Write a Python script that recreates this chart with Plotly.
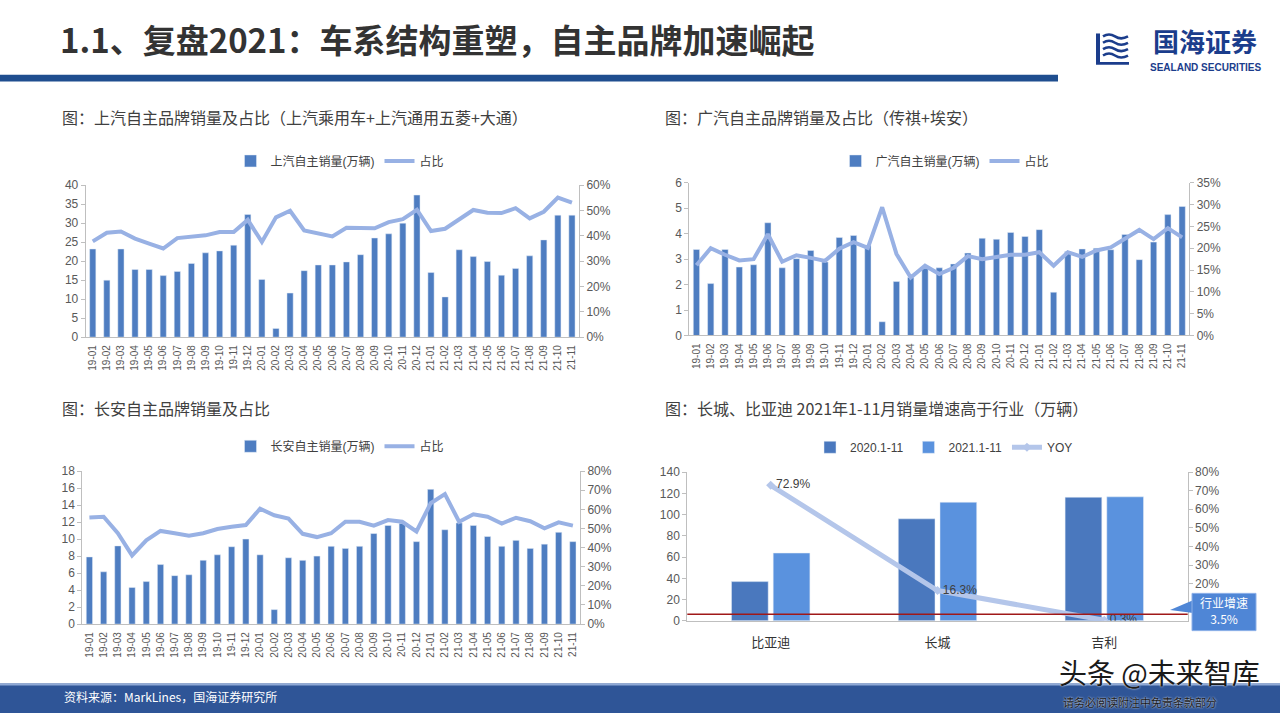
import plotly.graph_objects as go

# ---------------- data ----------------
MONTHS = ["19-01", "19-02", "19-03", "19-04", "19-05", "19-06", "19-07", "19-08", "19-09", "19-10", "19-11", "19-12",
          "20-01", "20-02", "20-03", "20-04", "20-05", "20-06", "20-07", "20-08", "20-09", "20-10", "20-11", "20-12",
          "21-01", "21-02", "21-03", "21-04", "21-05", "21-06", "21-07", "21-08", "21-09", "21-10", "21-11"]

SAIC_SALES = [23.2, 15.0, 23.2, 17.8, 17.8, 16.2, 17.3, 19.4, 22.2, 22.7, 24.2, 32.3,
              15.2, 2.3, 11.6, 17.5, 19.0, 19.0, 19.8, 21.7, 26.1, 27.2, 30.0, 37.4,
              17.0, 10.6, 23.0, 21.2, 19.9, 16.3, 18.1, 21.4, 25.6, 32.1, 32.1]
SAIC_SHARE = [37.8, 41.2, 41.7, 38.9, 36.9, 35.0, 39.1, 39.7, 40.2, 41.5, 41.5, 46.3,
              37.6, 47.3, 49.9, 42.1, 40.8, 39.8, 43.2, 43.0, 43.0, 45.4, 46.6, 50.3,
              41.9, 42.8, 46.4, 50.2, 49.1, 49.0, 50.9, 46.9, 49.5, 55.1, 53.1]

GAC_SALES = [3.38, 2.04, 3.38, 2.69, 2.78, 4.43, 2.66, 3.02, 3.34, 2.89, 3.85, 3.93,
             3.55, 0.54, 2.12, 2.28, 2.63, 2.66, 2.81, 3.24, 3.82, 3.78, 4.05, 3.89,
             4.16, 1.70, 3.30, 3.40, 3.43, 3.37, 3.97, 2.98, 3.67, 4.75, 5.07]
GAC_SHARE = [16.1, 20.0, 18.5, 17.2, 17.5, 23.2, 16.9, 18.4, 17.8, 17.1, 19.9, 21.4,
             20.1, 29.4, 18.7, 13.3, 16.0, 14.1, 15.5, 18.2, 17.5, 18.0, 18.5, 18.5,
             19.1, 16.0, 19.1, 18.0, 19.5, 20.2, 22.1, 24.2, 22.1, 24.6, 22.5]

CHANGAN_SALES = [7.9, 6.15, 9.2, 4.3, 5.0, 7.0, 5.7, 5.8, 7.5, 8.15, 9.1, 10.0,
                 8.15, 1.7, 7.8, 7.5, 8.0, 9.15, 8.9, 9.15, 10.65, 11.6, 11.85, 9.7,
                 15.85, 11.1, 11.9, 11.6, 10.3, 9.15, 9.85, 8.9, 9.4, 10.8, 9.7]
CHANGAN_SHARE = [55.7, 56.1, 47.5, 35.9, 43.8, 48.7, 47.5, 46.2, 47.5, 49.7, 50.9, 51.8,
                 60.3, 56.9, 55.2, 47.2, 45.5, 47.5, 53.5, 53.5, 51.5, 54.4, 53.5, 48.4,
                 63.2, 68.0, 53.5, 57.4, 56.1, 52.6, 55.6, 53.8, 50.1, 53.2, 51.5]

BRANDS = ["比亚迪", "长城", "吉利"]
SALES_2020 = [36.9, 96.0, 116.3]
SALES_2021 = [63.8, 111.6, 116.7]
YOY = [72.9, 16.3, 0.3]
INDUSTRY_GROWTH = 3.5
YOY_TICKS = [20, 30, 40, 50, 60, 70, 80]  # 0% / 10% are hidden under the callout in the original

# ---------------- styles ----------------
FONT = "Liberation Sans, Noto Sans CJK SC, sans-serif"
CJK = "Noto Sans CJK SC, sans-serif"
BAR = "#4E7DC1"
LINE = "#98B1E4"
AXC = "#BFBFBF"
TXT = "#595959"
W, H = 1280, 720


def fx(p):
    return p / W


def fy(p):
    return 1 - p / H


fig = go.Figure()

# chart 1
fig.add_trace(go.Bar(x=MONTHS, y=SAIC_SALES, name="上汽自主销量(万辆)", marker_color=BAR,
                     xaxis="x", yaxis="y", legend="legend"))
fig.add_trace(go.Scatter(x=MONTHS, y=SAIC_SHARE, name="占比", mode="lines",
                         line=dict(color=LINE, width=4), xaxis="x", yaxis="y2", legend="legend"))
# chart 2
fig.add_trace(go.Bar(x=MONTHS, y=GAC_SALES, name="广汽自主销量(万辆)", marker_color=BAR,
                     xaxis="x2", yaxis="y3", legend="legend2"))
fig.add_trace(go.Scatter(x=MONTHS, y=GAC_SHARE, name="占比", mode="lines",
                         line=dict(color=LINE, width=4), xaxis="x2", yaxis="y4", legend="legend2"))
# chart 3
fig.add_trace(go.Bar(x=MONTHS, y=CHANGAN_SALES, name="长安自主销量(万辆)", marker_color=BAR,
                     xaxis="x3", yaxis="y5", legend="legend3"))
fig.add_trace(go.Scatter(x=MONTHS, y=CHANGAN_SHARE, name="占比", mode="lines",
                         line=dict(color=LINE, width=4), xaxis="x3", yaxis="y6", legend="legend3"))
# chart 4
fig.add_trace(go.Bar(x=BRANDS, y=SALES_2020, name="2020.1-11", marker_color="#4A78BE",
                     xaxis="x4", yaxis="y7", legend="legend4"))
fig.add_trace(go.Bar(x=BRANDS, y=SALES_2021, name="2021.1-11", marker_color="#5A92DE",
                     xaxis="x4", yaxis="y7", legend="legend4"))
fig.add_trace(go.Scatter(x=BRANDS, y=YOY, name="YOY", mode="lines+markers+text",
                         text=[f"{v:.1f}%" for v in YOY], textposition="middle right",
                         textfont=dict(size=12, color="#404040", family=FONT),
                         line=dict(color="#B4C6EA", width=5),
                         marker=dict(symbol="diamond", size=7, color="#B4C6EA"),
                         xaxis="x4", yaxis="y8", legend="legend4"))


def yax(domain, rng, dtick, anchor, side="left", overlay=None, suffix="", tickvals=None):
    d = dict(range=rng, dtick=dtick, side=side, anchor=anchor, showline=True, linecolor=AXC, linewidth=1,
             showgrid=False, zeroline=False, ticks="outside", ticklen=4, tickcolor=AXC,
             ticksuffix=suffix, tickfont=dict(size=12, color=TXT, family=FONT), fixedrange=True)
    if tickvals is not None:
        d["tickmode"] = "array"
        d["tickvals"] = tickvals
        d["ticktext"] = [f"{v}{suffix}" for v in tickvals]
    if overlay:
        d["overlaying"] = overlay
    else:
        d["domain"] = domain
    return d


def xax(domain, anchor, angle=-90, size=10, standoff=3):
    return dict(domain=domain, anchor=anchor, type="category", showline=True, linecolor=AXC,
                linewidth=1, showgrid=False, zeroline=False, ticks="", tickangle=angle,
                ticklabelstandoff=standoff,
                tickfont=dict(size=size, color=TXT, family=FONT), fixedrange=True)


D1x, D1y = [fx(85.7), fx(579)], [fy(336.7), fy(181.7)]
D2x, D2y = [fx(689.3), fx(1189.3)], [fy(335), fy(179.3)]
D3x, D3y = [fx(82.3), fx(580)], [fy(629.3), fy(473.3)]
D4x, D4y = [fx(687.3), fx(1187.7)], [fy(626), fy(474.3)]

y1 = yax(D1y, [0, 40], 5, "x")
y2 = yax(None, [0, 60], 10, "x", "right", "y", "%")
y3 = yax(D2y, [0, 6], 1, "x2")
y4 = yax(None, [0, 35], 5, "x2", "right", "y3", "%")
y5 = yax(D3y, [0, 18], 2, "x3")
y6 = yax(None, [0, 80], 10, "x3", "right", "y5", "%")
y7 = yax(D4y, [0, 140], 20, "x4")
y8 = yax(None, [0, 80], 10, "x4", "right", "y7", "%", tickvals=YOY_TICKS)

x4 = xax(D4x, "y7", angle=0, size=13, standoff=10)
x4["tickfont"]["color"] = "#333333"

legend_common = dict(orientation="h", xanchor="center", yanchor="middle", bgcolor="rgba(0,0,0,0)",
                     font=dict(size=12, color="#404040", family=FONT), itemwidth=30, tracegroupgap=0)

LOGO = "#1B3D8C"
shapes = [
    # header bar
    dict(type="rect", xref="paper", yref="paper", x0=0, x1=fx(1058), y0=fy(76), y1=fy(69),
         fillcolor="#1F4E8F", line=dict(width=0)),
    # footer band
    dict(type="rect", xref="paper", yref="paper", x0=0, x1=1, y0=0, y1=fy(690),
         fillcolor="#2F5597", line=dict(width=0)),
    dict(type="rect", xref="paper", yref="paper", x0=0, x1=1, y0=fy(692), y1=fy(690),
         fillcolor="#8FA9D6", line=dict(width=0)),
    # industry growth line
    dict(type="line", xref="x4 domain", yref="y8", x0=0, x1=1, y0=INDUSTRY_GROWTH, y1=INDUSTRY_GROWTH,
         line=dict(color="#A01818", width=1.5)),
    # callout pointer + box
    dict(type="path", xref="paper", yref="paper",
         path=f"M {fx(1193)},{fy(605)} L {fx(1170)},{fy(615)} L {fx(1193)},{fy(618)} Z",
         fillcolor="#4F86D6", line=dict(width=0)),
    dict(type="rect", xref="paper", yref="paper", x0=fx(1192), x1=fx(1256), y0=fy(636), y1=fy(598),
         fillcolor="#4F86D6", line=dict(color="#8DB0E8", width=1)),
    # logo icon
    dict(type="rect", xref="paper", yref="paper", x0=fx(1096), x1=fx(1100), y0=fy(58), y1=fy(27),
         fillcolor=LOGO, line=dict(width=0)),
    dict(type="rect", xref="paper", yref="paper", x0=fx(1096), x1=fx(1129), y0=fy(59), y1=fy(56),
         fillcolor=LOGO, line=dict(width=0)),
]
for yy in [30, 36.5, 43, 49.5]:
    p = (f"M {fx(1103)},{fy(yy)} Q {fx(1109)},{fy(yy - 4)} {fx(1115)},{fy(yy)} "
         f"T {fx(1128)},{fy(yy)}")
    shapes.append(dict(type="path", xref="paper", yref="paper", path=p,
                       line=dict(color=LOGO, width=2.5)))


def note(text, x, y, size, color, family=CJK, xanchor="left", **kw):
    return dict(text=text, x=fx(x), y=fy(y), xref="paper", yref="paper", xanchor=xanchor,
                yanchor="middle", showarrow=False, font=dict(size=size, color=color, family=family, **kw))


annotations = [
    note("<b>1.1、复盘2021：车系结构重塑，自主品牌加速崛起</b>", 58, 33, 33, "#333333"),
    note("<b>国海证券</b>", 1205, 34, 26, LOGO, xanchor="center"),
    note("<b>SEALAND SECURITIES</b>", 1205, 62, 10, LOGO, family=FONT, xanchor="center"),
    note("图：上汽自主品牌销量及占比（上汽乘用车+上汽通用五菱+大通）", 60, 112, 16, "#404040"),
    note("图：广汽自主品牌销量及占比（传祺+埃安）", 663, 112, 16, "#404040"),
    note("图：长安自主品牌销量及占比", 60, 409, 16, "#404040"),
    note("图：长城、比亚迪 2021年1-11月销量增速高于行业（万辆）", 663, 409, 16, "#404040"),
    note(f"行业增速<br>{INDUSTRY_GROWTH}%", 1224, 615, 12, "white", xanchor="center"),
    note("资料来源：MarkLines，国海证券研究所", 62, 703, 12, "white"),
    note("头条 @未来智库", 1262, 678, 28, "#1a1a1a", xanchor="right", shadow="0px 0px 2px white"),
    note("请务必阅读附注中免责条款部分", 1140, 709, 11, "#1a1a1a", xanchor="center",
         shadow="0px 0px 2px white"),
]

fig.update_layout(
    width=W, height=H, margin=dict(l=0, r=0, t=0, b=0),
    paper_bgcolor="white", plot_bgcolor="rgba(0,0,0,0)",
    font=dict(family=FONT, color=TXT),
    barmode="group", bargap=0.5, bargroupgap=0.12,
    xaxis=xax(D1x, "y"), yaxis=y1, yaxis2=y2,
    xaxis2=xax(D2x, "y3"), yaxis3=y3, yaxis4=y4,
    xaxis3=xax(D3x, "y5"), yaxis5=y5, yaxis6=y6,
    xaxis4=x4, yaxis7=y7, yaxis8=y8,
    legend=dict(x=fx(340), y=fy(157), **legend_common),
    legend2=dict(x=fx(945), y=fy(157), **legend_common),
    legend3=dict(x=fx(340), y=fy(448), **legend_common),
    legend4=dict(x=fx(944), y=fy(449), **legend_common),
    shapes=shapes, annotations=annotations, showlegend=True,
)

fig.write_html("out.html", config={"displayModeBar": False},
               post_script="document.body.style.margin='0';document.body.style.overflow='hidden';")
